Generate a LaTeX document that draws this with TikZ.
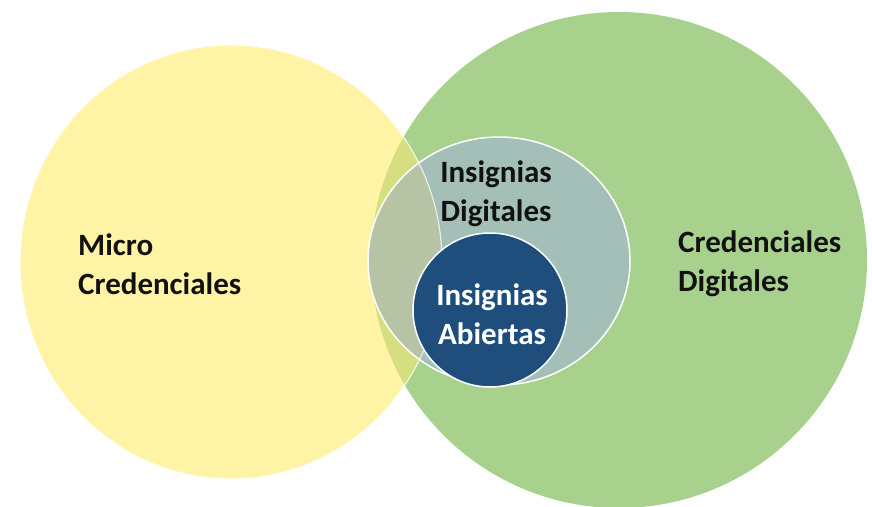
\documentclass[tikz,border=0pt]{standalone}
\usepackage{fontspec}
\setmainfont{Carlito}
\definecolor{yel}{HTML}{FFF4A6}
\definecolor{grn}{HTML}{A9D18E}
\definecolor{lens}{HTML}{D5DE80}
\definecolor{mid}{HTML}{A3BFB8}
\definecolor{midy}{HTML}{B6C3A4}
\definecolor{dark}{HTML}{1F4E7D}
\definecolor{ink}{HTML}{111111}
\tikzset{
  lbl/.style={font=\bfseries\fontsize{31}{39}\selectfont, text=ink, inner sep=0pt},
  wlbl/.style={lbl, text=white},
  yelshape/.style={x radius=211pt, y radius=217pt},
  midshape/.style={x radius=131pt, y radius=124pt}
}
\begin{document}
\begin{tikzpicture}[x=1pt,y=-1pt]
\useasboundingbox (0,0) rectangle (872,506);
\fill[white] (0,0) rectangle (872,506);
\coordinate (gc) at (619,260);
\coordinate (yc) at (231,262);
\coordinate (mc) at (499,261);
\coordinate (dc) at (490,310);
% green circle
\fill[grn] (gc) circle [radius=248pt];
% yellow circle
\fill[yel] (yc) ellipse [yelshape];
\begin{scope}
  \clip (yc) ellipse [yelshape];
  \fill[lens] (gc) circle [radius=248pt];
\end{scope}
% middle circle
\fill[mid] (mc) ellipse [midshape];
\begin{scope}
  \clip (yc) ellipse [yelshape];
  \fill[midy] (mc) ellipse [midshape];
\end{scope}
\draw[white, opacity=0.75, line width=1.2pt] (yc) ellipse [yelshape];
\draw[white, line width=1.5pt] (mc) ellipse [midshape];
% dark circle
\fill[dark] (dc) circle [radius=77pt];
\draw[white, line width=1.5pt] (dc) circle [radius=77pt];
% labels
\node[lbl, anchor=north west, align=left] (micro) at (78,234) {Micro\\Credenciales};
\node[lbl, anchor=north west, align=left] (cred) at (678,231) {Credenciales\\Digitales};
\node[lbl, anchor=north, align=center] (idig) at (496,161) {Insignias\\Digitales};
\node[wlbl, anchor=north, align=center] (iab) at (492,284) {Insignias\\Abiertas};
\end{tikzpicture}
\end{document}
